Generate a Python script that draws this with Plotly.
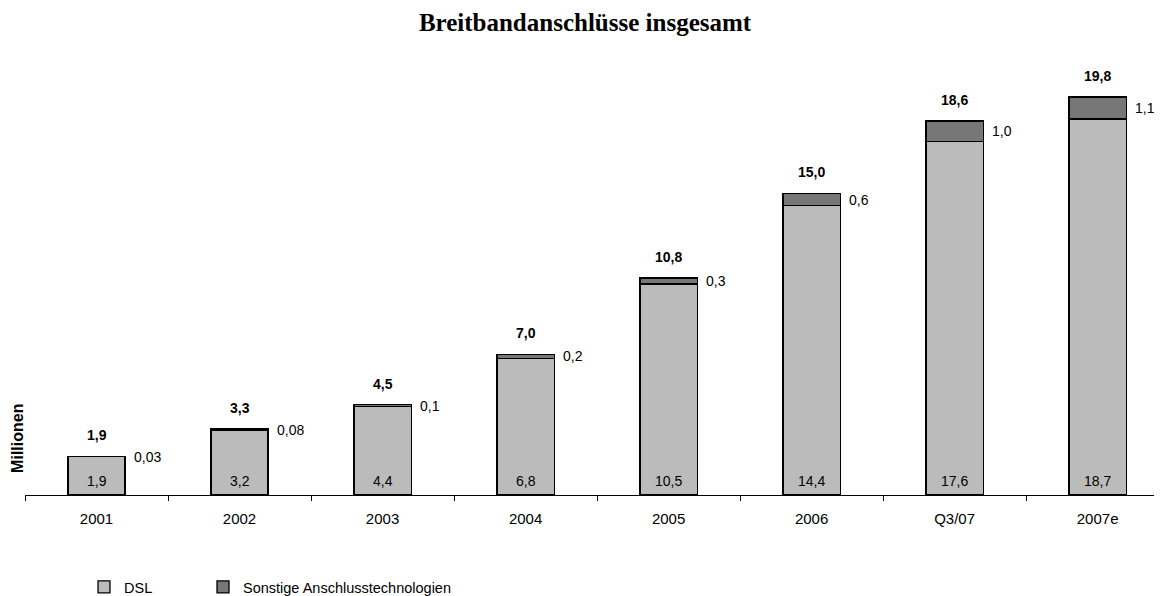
import plotly.graph_objects as go

categories = ["2001", "2002", "2003", "2004", "2005", "2006", "Q3/07", "2007e"]
dsl = [1.9, 3.2, 4.4, 6.8, 10.5, 14.4, 17.6, 18.7]
sonstige = [0.03, 0.08, 0.1, 0.2, 0.3, 0.6, 1.0, 1.1]
totals = [1.9, 3.3, 4.5, 7.0, 10.8, 15.0, 18.6, 19.8]
dsl_labels = ["1,9", "3,2", "4,4", "6,8", "10,5", "14,4", "17,6", "18,7"]
sonstige_labels = ["0,03", "0,08", "0,1", "0,2", "0,3", "0,6", "1,0", "1,1"]
total_labels = ["1,9", "3,3", "4,5", "7,0", "10,8", "15,0", "18,6", "19,8"]

FONT = "Liberation Sans, Arial, sans-serif"
FS = 14

# The page body adds an 8px offset; the figure is sized so that it fills the window.
W, H = 1154, 588

fig = go.Figure()
fig.add_trace(go.Bar(
    x=categories, y=dsl, name="DSL",
    marker=dict(color="#BBBBBB", line=dict(color="#000000", width=1.3)),
    width=0.4, legend="legend",
))
fig.add_trace(go.Bar(
    x=categories, y=sonstige, name="Sonstige Anschlusstechnologien",
    marker=dict(color="#777777", line=dict(color="#000000", width=1.3)),
    width=0.4, legend="legend2",
))

annotations = []
for i, (d, s, dl, sl, tl) in enumerate(zip(dsl, sonstige, dsl_labels, sonstige_labels, total_labels)):
    annotations.append(dict(x=i, y=d + s, text="<b>%s</b>" % tl, showarrow=False,
                            xanchor="center", yanchor="middle", yshift=21,
                            font=dict(family=FONT, size=FS, color="#000")))
    annotations.append(dict(x=i, y=d + s / 2, text=sl, showarrow=False,
                            xanchor="left", yanchor="middle", xshift=35,
                            font=dict(family=FONT, size=FS, color="#000")))
    annotations.append(dict(x=i, y=0, text=dl, showarrow=False,
                            xanchor="center", yanchor="middle", yshift=14,
                            font=dict(family=FONT, size=FS, color="#000")))

annotations.append(dict(xref="paper", yref="paper", x=0.0, y=0.129, xshift=-7,
                        text="<b>Millionen</b>", textangle=-90, showarrow=False,
                        xanchor="center", yanchor="middle",
                        font=dict(family=FONT, size=16, color="#000")))

legend_common = dict(orientation="h", y=-0.2115, xanchor="left", yanchor="middle",
                     font=dict(family=FONT, size=14.5, color="#000"),
                     itemwidth=30, bgcolor="rgba(0,0,0,0)")

fig.update_layout(
    width=W, height=H,
    margin=dict(l=17, r=0, t=52, b=101, autoexpand=False),
    paper_bgcolor="white", plot_bgcolor="white",
    barmode="stack",
    title=dict(text="<b>Breitbandanschlüsse insgesamt</b>", x=0.5, xanchor="center",
               y=1 - 14 / H, yanchor="middle",
               font=dict(family="Liberation Serif, Times New Roman, serif", size=25, color="#000")),
    xaxis=dict(type="category", range=[-0.5, 7.45], showline=True, linecolor="#000", linewidth=1,
               ticks="outside", tickson="boundaries", ticklen=5, tickcolor="#000",
               showgrid=False, ticklabelstandoff=10,
               tickfont=dict(family=FONT, size=15, color="#000")),
    yaxis=dict(range=[0, 21.64], showgrid=False, showline=False, zeroline=False,
               showticklabels=False, ticks=""),
    showlegend=True,
    legend=dict(x=(84 - 25) / 1137, **legend_common),
    legend2=dict(x=(203 - 25) / 1137, **legend_common),
    annotations=annotations,
)

fig.write_html("out.html")
